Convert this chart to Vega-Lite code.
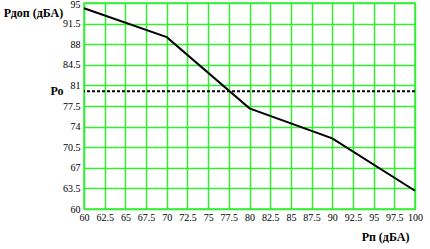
{
  "$schema": "https://vega.github.io/schema/vega-lite/v6.json",
  "width": 331,
  "height": 206,
  "autosize": {"type": "none"},
  "padding": {"left": 84, "top": 3, "right": 15, "bottom": 40},
  "background": "white",
  "config": {
    "view": {"stroke": "#33ee33", "strokeWidth": 1.5},
    "font": "Liberation Serif"
  },
  "datasets": {
    "curve": [
      {"Rp": 60, "Rdop": 94.1},
      {"Rp": 70, "Rdop": 89.2},
      {"Rp": 80, "Rdop": 77.1},
      {"Rp": 90, "Rdop": 72.0},
      {"Rp": 100, "Rdop": 63.1}
    ],
    "ref": [{"label": "Ро", "Ro": 80}]
  },
  "resolve": {"axis": {"x": "independent", "y": "independent"}},
  "layer": [
    {
      "data": {"name": "curve"},
      "mark": {"type": "line", "color": "black", "strokeWidth": 2},
      "encoding": {
        "x": {
          "field": "Rp", "type": "quantitative",
          "scale": {"domain": [60, 100], "nice": false, "zero": false},
          "axis": {
            "values": [60, 62.5, 65, 67.5, 70, 72.5, 75, 77.5, 80, 82.5, 85, 87.5, 90, 92.5, 95, 97.5, 100],
            "format": ".1~f",
            "title": "Рп (дБА)",
            "titleX": 301, "titleY": 27, "titleAlign": "center", "titleBaseline": "middle",
            "titleFont": "Liberation Serif", "titleFontSize": 12, "titleFontWeight": "bold", "titleColor": "black",
            "labelFont": "Liberation Serif", "labelFontSize": 10, "labelColor": "black", "labelPadding": 3,
            "labelFlush": false, "labelOverlap": false,
            "ticks": false, "domain": false,
            "grid": true, "gridColor": "#33ee33", "gridWidth": 1.5, "gridOpacity": 1
          }
        },
        "y": {
          "field": "Rdop", "type": "quantitative",
          "scale": {"domain": [60, 95], "nice": false, "zero": false},
          "axis": {
            "values": [60, 63.5, 67, 70.5, 74, 77.5, 81, 84.5, 88, 91.5, 95],
            "format": ".1~f",
            "title": "Рдоп (дБА)",
            "titleAngle": 0, "titleX": -51, "titleY": 9, "titleAlign": "center", "titleBaseline": "middle",
            "titleFont": "Liberation Serif", "titleFontSize": 12, "titleFontWeight": "bold", "titleColor": "black",
            "labelFont": "Liberation Serif", "labelFontSize": 10, "labelColor": "black", "labelPadding": 4,
            "labelOffset": {"condition": {"test": "datum.value == 95", "value": 1.5}, "value": 0},
            "labelFlush": false, "labelOverlap": false,
            "ticks": false, "domain": false,
            "grid": true, "gridColor": "#33ee33", "gridWidth": 1.5, "gridOpacity": 1
          }
        }
      }
    },
    {
      "data": {"name": "ref"},
      "mark": {"type": "rule", "color": "black", "strokeWidth": 2, "strokeDash": [3, 2]},
      "encoding": {
        "y": {"field": "Ro", "type": "quantitative", "axis": null}
      }
    },
    {
      "data": {"name": "ref"},
      "mark": {"type": "text", "font": "Liberation Serif", "fontSize": 12, "fontWeight": "bold", "color": "black", "align": "center", "baseline": "middle", "dx": -27},
      "encoding": {
        "x": {"datum": 60, "type": "quantitative", "axis": null},
        "y": {"field": "Ro", "type": "quantitative", "axis": null},
        "text": {"field": "label"}
      }
    }
  ]
}
